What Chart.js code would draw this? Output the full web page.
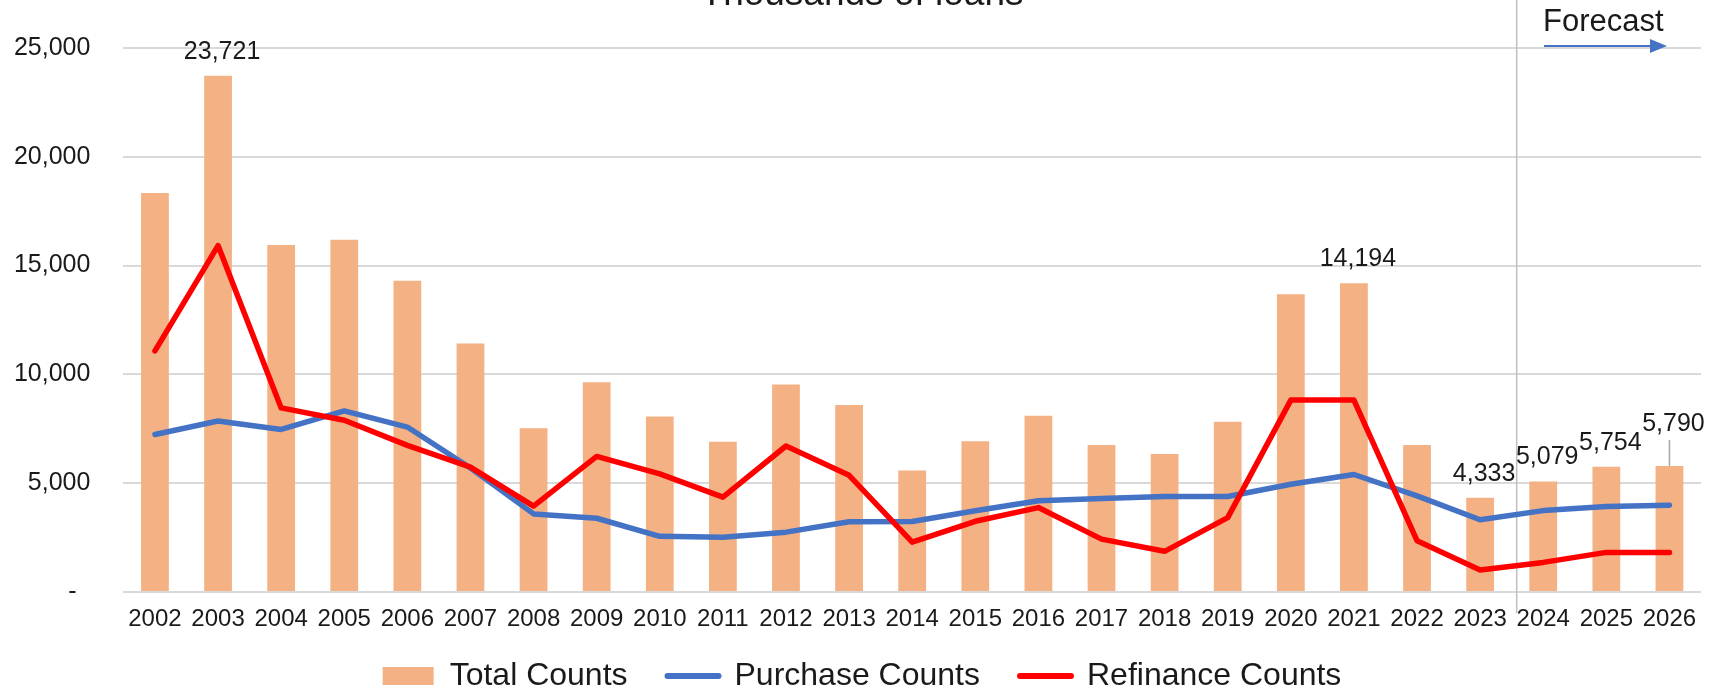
<!DOCTYPE html>
<html>
<head>
<meta charset="utf-8">
<script src="https://cdn.jsdelivr.net/npm/chart.js@4.4.1/dist/chart.umd.min.js"></script>
<style>
html,body{margin:0;padding:0;background:#fff;overflow:hidden}
#wrap{width:1717px;height:692px;position:relative}
</style>
</head>
<body>
<div id="wrap"><canvas id="c" width="1717" height="692"></canvas></div>
<script>
// ---- data ----
const years = ['2002','2003','2004','2005','2006','2007','2008','2009','2010','2011','2012','2013','2014','2015','2016','2017','2018','2019','2020','2021','2022','2023','2024','2025','2026'];
const totalCounts = [18340,23721,15950,16190,14300,11420,7530,9640,8070,6900,9540,8590,5580,6930,8100,6760,6340,7820,13680,14194,6760,4333,5079,5754,5790];
const purchaseCounts = [7240,7860,7470,8320,7580,5700,3590,3390,2560,2520,2750,3230,3240,3730,4190,4300,4390,4390,4950,5400,4420,3320,3740,3930,3990];
const refinanceCounts = [11080,15920,8460,7890,6740,5740,3950,6230,5430,4360,6710,5360,2290,3250,3880,2430,1870,3420,8820,8820,2360,1010,1360,1820,1820];
const labeledIndices = [1,19,21,22,23,24];
const yTickValues = [0,5000,10000,15000,20000,25000];
const seriesNames = ['Total Counts','Purchase Counts','Refinance Counts'];
const titleText = 'Thousands of loans';
const forecastText = 'Forecast';
const forecastStartIndex = 22; // 2024

const FONT = '"Liberation Sans", Arial, sans-serif';
const TXT = '#1a1a1a';

const annot = {
  id: 'annot',
  beforeDatasetsDraw(chart) {
    const {ctx, scales: {x}} = chart;
    const xl = (x.getPixelForValue(forecastStartIndex - 1) + x.getPixelForValue(forecastStartIndex)) / 2 + 5;
    ctx.save();
    ctx.strokeStyle = '#BFBFBF';
    ctx.lineWidth = 1.5;
    ctx.beginPath();
    ctx.moveTo(xl, 0);
    ctx.lineTo(xl, 613);
    ctx.stroke();
    ctx.restore();
  },
  afterDatasetsDraw(chart) {
    const ctx = chart.ctx;
    const meta = chart.getDatasetMeta(0);
    ctx.save();
    ctx.font = '25px ' + FONT;
    ctx.fillStyle = TXT;
    ctx.textAlign = 'center';
    ctx.textBaseline = 'alphabetic';
    labeledIndices.forEach(i => {
      const bar = meta.data[i];
      let off = 17;
      if (i === years.length - 1) {
        off = 35;
        ctx.save();
        ctx.strokeStyle = '#A6A6A6';
        ctx.lineWidth = 1.5;
        ctx.beginPath();
        ctx.moveTo(bar.x, bar.y - 26);
        ctx.lineTo(bar.x, bar.y);
        ctx.stroke();
        ctx.restore();
      }
      ctx.fillText(totalCounts[i].toLocaleString('en-US'), bar.x + 4, bar.y - off);
    });
    // title (partly cut off at top)
    ctx.font = '37px ' + FONT;
    ctx.fillText(titleText, 862, 5);
    // Forecast label + arrow
    ctx.font = '31px ' + FONT;
    ctx.textAlign = 'left';
    ctx.fillText(forecastText, 1543, 31);
    ctx.strokeStyle = '#4472C4';
    ctx.fillStyle = '#4472C4';
    ctx.lineWidth = 2;
    ctx.beginPath();
    ctx.moveTo(1544, 46);
    ctx.lineTo(1652, 46);
    ctx.stroke();
    ctx.beginPath();
    ctx.moveTo(1667, 46);
    ctx.lineTo(1650, 39);
    ctx.lineTo(1650, 53);
    ctx.closePath();
    ctx.fill();
    ctx.restore();
  }
};

new Chart(document.getElementById('c'), {
  type: 'bar',
  data: {
    labels: years,
    datasets: [
      {
        type: 'bar', label: seriesNames[0], data: totalCounts,
        backgroundColor: '#F4B183', borderWidth: 0,
        barPercentage: 0.44, categoryPercentage: 1.0, order: 3
      },
      {
        type: 'line', label: seriesNames[1], data: purchaseCounts,
        borderColor: '#4472C4', backgroundColor: '#4472C4', borderWidth: 5.5,
        pointRadius: 0, tension: 0, borderJoinStyle: 'round', borderCapStyle: 'round', order: 2
      },
      {
        type: 'line', label: seriesNames[2], data: refinanceCounts,
        borderColor: '#FF0000', backgroundColor: '#FF0000', borderWidth: 5.5,
        pointRadius: 0, tension: 0, borderJoinStyle: 'round', borderCapStyle: 'round', order: 1
      }
    ]
  },
  options: {
    responsive: false,
    animation: false,
    devicePixelRatio: 1,
    layout: { padding: { left: 23, right: 16, top: 45.5, bottom: -10 } },
    plugins: {
      tooltip: { enabled: false },
      title: { display: false },
      legend: {
        position: 'bottom',
        labels: {
          usePointStyle: true,
          pointStyleWidth: 51,
          boxHeight: 18,
          padding: 40,
          color: TXT,
          font: { size: 32, family: FONT },
          generateLabels(chart) {
            return chart.data.datasets.map((ds, i) => ({
              text: ds.label,
              datasetIndex: i,
              hidden: false,
              fillStyle: ds.type === 'bar' ? ds.backgroundColor : ds.borderColor,
              strokeStyle: ds.type === 'bar' ? ds.backgroundColor : ds.borderColor,
              lineWidth: ds.type === 'bar' ? 0 : 6,
              lineCap: 'round',
              pointStyle: ds.type === 'bar' ? 'rect' : 'line',
              fontColor: TXT
            }));
          }
        }
      }
    },
    scales: {
      x: {
        grid: { display: false, drawTicks: false },
        border: { display: false },
        ticks: { color: TXT, font: { size: 24, family: FONT }, padding: 12.5, maxRotation: 0, autoSkip: false },
        afterFit(scale) {
          scale.height = 28;
          scale._computeLabelArea = function () { return undefined; };
        }
      },
      y: {
        min: 0, max: 25000,
        afterBuildTicks(scale) { scale.ticks = yTickValues.map(v => ({ value: v })); },
        grid: { color: '#D9D9D9', lineWidth: 2, drawTicks: false },
        border: { display: false },
        ticks: {
          color: TXT, font: { size: 25, family: FONT }, padding: 33,
          callback: v => v === 0 ? '-  ' : Number(v).toLocaleString('en-US')
        },
        afterFit(scale) {
          scale.width = 100.4;
          scale._computeLabelArea = function () { return undefined; };
        }
      }
    }
  },
  plugins: [annot]
});
</script>
</body>
</html>
